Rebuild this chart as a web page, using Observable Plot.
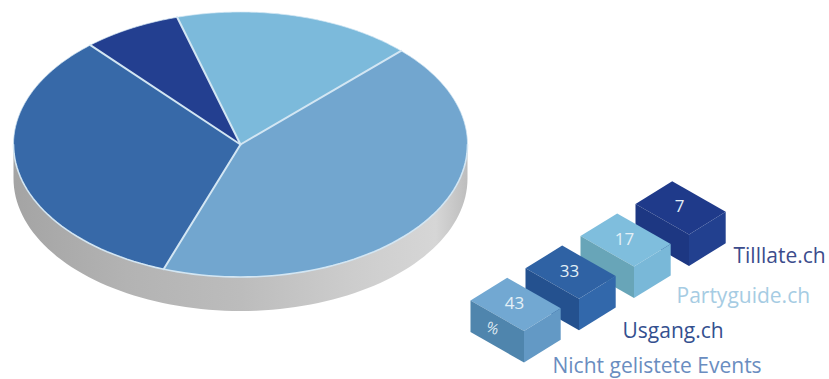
<!DOCTYPE html>
<html>
<head>
<meta charset="utf-8">
<script src="https://cdn.jsdelivr.net/npm/d3@7"></script>
<script src="https://cdn.jsdelivr.net/npm/@observablehq/plot@0.6"></script>
<style>
  html, body { margin: 0; padding: 0; background: #fff; }
  svg { display: block; }
</style>
</head>
<body>
<div id="chart"></div>
<script>
// Share of event listings per platform, in percent
const names = ["Nicht gelistete Events", "Usgang.ch", "Tilllate.ch", "Partyguide.ch"];
const percent = [43, 33, 7, 17];
const unit = "%";
// Place of each platform in the legend staircase, counted from the lower left
const stairRank = [0, 1, 3, 2];

// Colour per platform
const sliceColors = ["#72a6cf", "#3769a8", "#233f90", "#7cbadb"];
const topColors = ["#72a8d2", "#2f62a4", "#1f3a8a", "#7fbedd"];
const leftColors = ["#4f85ad", "#24518f", "#1d3782", "#68a5b8"];
const rightColors = ["#6399c5", "#3268ab", "#22408f", "#79b8d8"];
const labelColors = ["#6a8dc0", "#34508f", "#3c4c8c", "#a6cce3"];

// Pie geometry: flattened disc seen at an angle
const pie = {cx: 240, cy: 144, rx: 227, ry: 132.5, depth: 34, start: 45};
const ellipsePoint = (deg, dy = 0) => {
  const a = deg * Math.PI / 180;
  return {x: pie.cx + pie.rx * Math.sin(a), y: pie.cy - pie.ry * Math.cos(a) + dy};
};

// Top faces of the slices, swept clockwise in proportion to each value
let sweep = pie.start;
const spokes = [];
const slices = percent.flatMap((p, i) => {
  const from = sweep, to = sweep + p * 3.6;
  sweep = to;
  spokes.push({x: pie.cx, y: pie.cy, id: i}, {...ellipsePoint(from), id: i});
  const pts = [{x: pie.cx, y: pie.cy}];
  for (let k = 0; k <= 90; k++) pts.push(ellipsePoint(from + (to - from) * k / 90));
  return pts.map(d => ({...d, id: names[i], color: sliceColors[i]}));
});

// Outline of the disc; the front half catches more light than the back
const backEdge = [], frontEdge = [];
for (let d = -90; d <= 90; d += 2) backEdge.push(ellipsePoint(d));
for (let d = 90; d <= 270; d += 2) frontEdge.push(ellipsePoint(d));

// Visible wall of the disc: the front half of the rim, pushed down by the depth
const rim = [...frontEdge];
for (let d = 270; d >= 90; d -= 2) rim.push(ellipsePoint(d, pie.depth));

// Legend blocks step up and to the right; rank 0 sits at the lower left
const block = {x0: 470, y0: 300, stepX: 55, stepY: -32.2, topX: 36.7, topY: -22.7, frontX: 53.5, frontY: 30.5, h: 31.5};
const blockOrigin = r => ({x: block.x0 + r * block.stepX, y: block.y0 + r * block.stepY});
// Drawn from the far end so nearer blocks cover the ones behind them
const drawOrder = d3.range(percent.length).sort((a, b) => stairRank[b] - stairRank[a]);
const faces = drawOrder.flatMap(i => {
  const o = blockOrigin(stairRank[i]);
  const a = o;
  const b = {x: o.x + block.topX, y: o.y + block.topY};
  const c = {x: b.x + block.frontX, y: b.y + block.frontY};
  const f = {x: o.x + block.frontX, y: o.y + block.frontY};
  const down = q => ({x: q.x, y: q.y + block.h});
  return [
    {id: `top${i}`, color: topColors[i], pts: [a, b, c, f]},
    {id: `left${i}`, color: leftColors[i], pts: [a, f, down(f), down(a)]},
    {id: `right${i}`, color: rightColors[i], pts: [f, c, down(c), down(f)]}
  ].flatMap(face => face.pts.map(q => ({...q, id: face.id, color: face.color})));
});

// Value printed on each block's top face, platform name beside it
const valueRows = percent.map((p, i) => {
  const o = blockOrigin(stairRank[i]);
  return {x: o.x + 44, y: o.y + 3, text: String(p)};
});
const nameAnchors = [
  {x: 552, y: 366}, {x: 622, y: 331}, {x: 733, y: 256}, {x: 676, y: 296}
];
const nameRows = names.map((n, i) => ({...nameAnchors[i], text: n, color: labelColors[i]}));

// Grey shading along the wall, darker towards the left
const rimStops = [[0, "#a4a4a4"], [0.25, "#b3b3b3"], [0.5, "#bcbcbc"], [0.75, "#cdcdcd"], [0.93, "#d6d6d6"], [1, "#bdbdbd"]];
const rimGradient = () => {
  const defs = d3.create("svg:defs");
  const g = defs.append("linearGradient").attr("id", "rim-shade").attr("x1", 0).attr("x2", 1).attr("y1", 0).attr("y2", 0);
  rimStops.forEach(([o, c]) => g.append("stop").attr("offset", o).attr("stop-color", c));
  return defs.node();
};

const font = "'Open Sans', sans-serif";
const chart = Plot.plot({
  width: 829,
  height: 379,
  margin: 0,
  x: {domain: [0, 829], range: [0, 829], axis: null},
  y: {domain: [0, 379], range: [0, 379], axis: null},
  color: {type: "identity"},
  marks: [
    rimGradient,
    Plot.line(rim, {x: "x", y: "y", fill: "url(#rim-shade)", stroke: "none", curve: "linear-closed"}),
    Plot.line(slices, {x: "x", y: "y", z: "id", fill: "color", stroke: "none", curve: "linear-closed"}),
    Plot.line(backEdge, {x: "x", y: "y", stroke: "#d3e6f3", strokeWidth: 0.7}),
    Plot.line(frontEdge, {x: "x", y: "y", stroke: "#d3e6f3", strokeWidth: 1.6}),
    Plot.line(spokes, {x: "x", y: "y", z: "id", stroke: "#d3e6f3", strokeWidth: 2}),
    Plot.line(faces, {x: "x", y: "y", z: "id", fill: "color", stroke: "none", curve: "linear-closed"}),
    Plot.text(valueRows, {x: "x", y: "y", text: "text", fill: "#e4f0f7", fontSize: 17, fontFamily: font}),
    Plot.text([unit], {x: () => blockOrigin(0).x + 22, y: () => blockOrigin(0).y + 28, text: d => d, fill: "#dfeaf2", fontSize: 15, fontFamily: font, rotate: 20}),
    Plot.text(nameRows, {x: "x", y: "y", text: "text", fill: "color", fontSize: 21, fontFamily: font, textAnchor: "start"})
  ]
});
document.getElementById("chart").append(chart);
</script>
</body>
</html>
